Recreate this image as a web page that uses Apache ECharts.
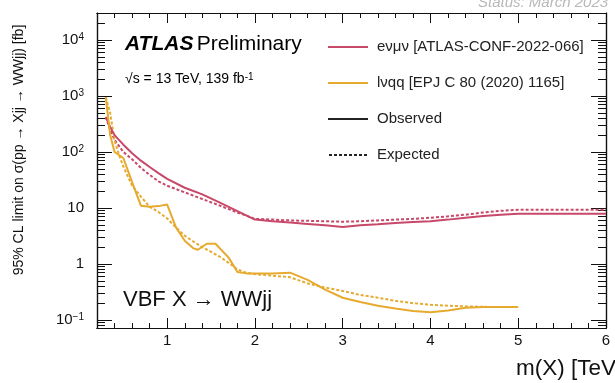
<!DOCTYPE html>
<html>
<head>
<meta charset="utf-8">
<script src="https://cdn.jsdelivr.net/npm/echarts@6/dist/echarts.min.js"></script>
<style>
  html, body { margin: 0; padding: 0; background: #fff; }
  #chart { width: 615px; height: 383px; }
</style>
</head>
<body>
<div id="chart"></div>
<script>
// 95% CL upper limits on sigma(pp -> Xjj -> WWjj) in fb versus m(X) in TeV

// e nu mu nu channel
const emuObserved = [
  [0.3, 420], [0.35, 280], [0.4, 200], [0.5, 135], [0.6, 95], [0.7, 70], [0.8, 54],
  [0.9, 42], [1.0, 33], [1.2, 23], [1.4, 17.5], [1.6, 12.5], [1.8, 8.8], [2.0, 6.2],
  [2.2, 5.8], [2.4, 5.5], [2.6, 5.2], [2.8, 4.9], [3.0, 4.6], [3.2, 4.9], [3.4, 5.1],
  [3.6, 5.4], [3.8, 5.6], [4.0, 5.8], [4.2, 6.2], [4.4, 6.7], [4.6, 7.2], [4.8, 7.6],
  [5.0, 7.9], [5.5, 7.9], [6.0, 7.9]
];
const emuExpected = [
  [0.3, 420], [0.35, 250], [0.4, 165], [0.5, 100], [0.6, 74], [0.7, 52], [0.8, 39],
  [0.9, 30], [1.0, 25], [1.2, 19], [1.4, 14.5], [1.6, 11], [1.8, 8.3], [2.0, 6.4],
  [2.2, 6.2], [2.4, 6.0], [2.6, 5.9], [2.8, 5.8], [3.0, 5.7], [3.2, 5.8], [3.4, 6.0],
  [3.6, 6.2], [3.8, 6.4], [4.0, 6.7], [4.2, 7.1], [4.4, 7.6], [4.6, 8.3], [4.8, 8.9],
  [5.0, 9.3], [5.5, 9.3], [6.0, 9.3]
];

// l nu qq channel
const lvqqObserved = [
  [0.3, 950], [0.35, 200], [0.4, 100], [0.5, 78], [0.6, 29], [0.7, 11], [0.8, 10.5],
  [0.9, 10.8], [1.0, 11.5], [1.1, 4.5], [1.2, 2.6], [1.3, 1.9], [1.35, 1.8], [1.45, 2.3],
  [1.55, 2.3], [1.7, 1.3], [1.8, 0.72], [1.9, 0.68], [2.0, 0.68], [2.2, 0.68], [2.4, 0.7],
  [2.6, 0.52], [2.8, 0.35], [3.0, 0.25], [3.2, 0.21], [3.4, 0.18], [3.6, 0.16],
  [3.8, 0.145], [4.0, 0.137], [4.2, 0.148], [4.4, 0.165], [4.6, 0.17], [4.8, 0.17], [5.0, 0.17]
];
const lvqqExpected = [
  [0.3, 950], [0.35, 500], [0.4, 160], [0.45, 90], [0.5, 55], [0.6, 25], [0.7, 16],
  [0.8, 10.5], [0.9, 8.5], [1.0, 6.5], [1.1, 4.5], [1.2, 3.2], [1.3, 2.5], [1.4, 2.0],
  [1.5, 1.65], [1.6, 1.35], [1.7, 1.05], [1.8, 0.8], [1.9, 0.7], [2.0, 0.66], [2.2, 0.62],
  [2.4, 0.58], [2.6, 0.45], [2.8, 0.38], [3.0, 0.33], [3.2, 0.28], [3.4, 0.25], [3.6, 0.22],
  [3.8, 0.2], [4.0, 0.187], [4.2, 0.18], [4.4, 0.175], [4.6, 0.172], [4.8, 0.17], [5.0, 0.17]
];

// axis ticks
const massMajorTicks = [1, 2, 3, 4, 5, 6];
const massMinorTicks = [0.2, 0.4, 0.6, 0.8, 1.2, 1.4, 1.6, 1.8, 2.2, 2.4, 2.6, 2.8, 3.2, 3.4, 3.6, 3.8,
  4.2, 4.4, 4.6, 4.8, 5.2, 5.4, 5.6, 5.8];
const limitMajorTicks = [0.1, 1, 10, 100, 1000, 10000];
const limitMinorTicks = [];
[0.01, 0.1, 1, 10, 100, 1000, 10000].forEach(function (d) {
  for (let k = 2; k <= 9; k++) {
    const v = +(k * d).toPrecision(3);
    if (v > 0.072 && v < 30300) limitMinorTicks.push(v);
  }
});

const legendNames = ['eνμν [ATLAS-CONF-2022-066]', 'lνqq [EPJ C 80 (2020) 1165]', 'Observed', 'Expected'];
const colRed = '#c8486a';
const colYellow = '#e6aa2e';
const FONT = 'Liberation Sans';

// legend keys: a plain stroke and a short-dash stroke
const solidKey = 'path://M0,0h40v2h-40z';
let dashedKey = 'path://';
for (let i = 0; i < 8; i++) dashedKey += 'M' + (i * 5) + ',0h3v2h-3z';

function limitLabel(v) {
  const e = Math.round(Math.log10(v));
  if (e === 0) return '1';
  if (e === 1) return '10';
  return '10{s|' + (e < 0 ? '−' + (-e) : e) + '}';
}

function massAxis(pos, ticks, len, labels) {
  return {
    type: 'value', min: 0.2, max: 6, position: pos,
    axisLine: { show: true, lineStyle: { color: '#111', width: 1.2 } },
    axisTick: { show: true, inside: true, length: len, customValues: ticks, lineStyle: { color: '#111', width: 1 } },
    axisLabel: labels ? { show: true, customValues: massMajorTicks, margin: 5, fontSize: 15, color: '#111', fontFamily: FONT } : { show: false },
    splitLine: { show: false }
  };
}
function limitAxis(pos, ticks, len, labels) {
  return {
    type: 'log', logBase: 10, min: 0.072, max: 30300, position: pos,
    axisLine: { show: true, lineStyle: { color: '#111', width: 1.2 } },
    axisTick: { show: true, inside: true, length: len, customValues: ticks, lineStyle: { color: '#111', width: 1 } },
    axisLabel: labels ? {
      show: true, customValues: limitMajorTicks, margin: 13, color: '#111', fontFamily: FONT, fontSize: 15,
      formatter: limitLabel,
      rich: { s: { fontSize: 10, verticalAlign: 'top', fontFamily: FONT, color: '#111', padding: [0, 0, 6, 0] } }
    } : { show: false },
    splitLine: { show: false }
  };
}

function line(name, data, color, dashed) {
  return {
    type: 'line', name: name, data: data, xAxisIndex: 0, yAxisIndex: 0,
    symbol: 'none', showSymbol: false, color: color,
    lineStyle: { color: color, width: 2, type: dashed ? [3, 2] : 'solid' },
    z: dashed ? 2 : 3
  };
}

const chart = echarts.init(document.getElementById('chart'), null, { renderer: 'canvas' });
chart.setOption({
  animation: false,
  backgroundColor: '#fff',
  grid: { left: 97, right: 9, top: 13, bottom: 55, containLabel: false },
  xAxis: [
    massAxis('bottom', massMajorTicks, 10, true),
    massAxis('bottom', massMinorTicks, 5, false),
    massAxis('top', massMajorTicks, 10, false),
    massAxis('top', massMinorTicks, 5, false)
  ],
  yAxis: [
    limitAxis('left', limitMajorTicks, 15, true),
    limitAxis('left', limitMinorTicks, 8, false),
    limitAxis('right', limitMajorTicks, 15, false),
    limitAxis('right', limitMinorTicks, 8, false)
  ],
  legend: {
    left: 323, top: 34, orient: 'vertical',
    itemWidth: 40, itemHeight: 2, itemGap: 20,
    data: [
      { name: legendNames[0], icon: solidKey },
      { name: legendNames[1], icon: solidKey },
      { name: legendNames[2], icon: solidKey },
      { name: legendNames[3], icon: dashedKey }
    ],
    textStyle: { fontFamily: FONT, fontSize: 15, color: '#222', lineHeight: 16, padding: [0, 0, 0, 4] }
  },
  series: [
    line(legendNames[0], emuObserved, colRed, false),
    line('eνμν expected', emuExpected, colRed, true),
    line(legendNames[1], lvqqObserved, colYellow, false),
    line('lνqq expected', lvqqExpected, colYellow, true),
    line('Observed', [], '#222', false),
    line('Expected', [], '#222', true)
  ],
  graphic: [
    {
      type: 'text', left: 125, top: 34, silent: true,
      style: {
        text: '{a|ATLAS} {b|Preliminary}',
        rich: {
          a: { fontFamily: FONT, fontSize: 21, fontWeight: 'bold', fontStyle: 'italic', fill: '#000' },
          b: { fontFamily: FONT, fontSize: 21, fill: '#000' }
        }
      }
    },
    {
      type: 'text', left: 125, top: 72, silent: true,
      style: {
        text: '√s = 13 TeV, 139 fb{s|-1}',
        rich: {
          s: { fontFamily: FONT, fontSize: 10, fill: '#000', verticalAlign: 'top', padding: [0, 0, 5, 0] }
        },
        fontFamily: FONT, fontSize: 14, fill: '#000'
      }
    },
    {
      type: 'text', left: 123, top: 289, silent: true,
      style: { text: 'VBF X → WWjj', fontFamily: FONT, fontSize: 22, fill: '#111' }
    },
    {
      type: 'text', x: 516, y: 369, silent: true,
      style: { text: 'm(X) [TeV]', fontFamily: FONT, fontSize: 22.5, fill: '#111', verticalAlign: 'middle' }
    },
    {
      type: 'text', x: 478, y: 3, silent: true,
      style: { text: 'Status: March 2023', fontFamily: FONT, fontSize: 15, fontStyle: 'italic', fill: '#b8b8b8', verticalAlign: 'middle' }
    },
    {
      type: 'text', x: 19, y: 150, rotation: Math.PI / 2, silent: true,
      style: {
        text: '95% CL limit on σ(pp → Xjj → WWjj) [fb]',
        fontFamily: FONT, fontSize: 14, fill: '#111', align: 'center', verticalAlign: 'middle'
      }
    }
  ]
});
</script>
</body>
</html>
